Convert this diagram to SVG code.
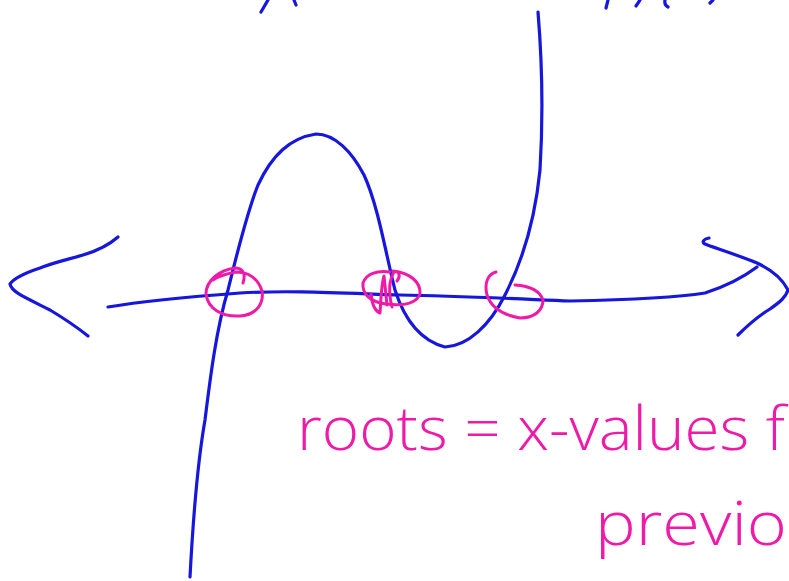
<svg xmlns="http://www.w3.org/2000/svg" width="789" height="581" viewBox="0 0 789 581">
<style>
.b{fill:none;stroke:#1616dc;stroke-width:3.2;stroke-linecap:round;stroke-linejoin:round}
.m{fill:none;stroke:#ee1aa8;stroke-width:3;stroke-linecap:round;stroke-linejoin:round}
.t{fill:#ee1aa8;font-family:"Open Sans","Liberation Sans","DejaVu Sans",sans-serif;font-weight:300;font-size:60px}
</style>
<rect width="789" height="581" fill="#ffffff"/>
<g id="top-fragments">
<path class="b" d="M261,12 L268,0"/>
<path class="b" d="M294,0 L296,5"/>
<path class="b" d="M606,8 L608,0"/>
<path class="b" d="M636,6 L640,0"/>
<path class="b" d="M665,0 Q664,5 668,7"/>
<path class="b" d="M710,3 L713,0"/>
</g>
<g id="axis">
<path class="b" d="M108,307 C150,300 200,296 240,293 C290,290 340,293 400,295 C460,296 520,299 570,301 C620,300 680,297 705,293 C730,285 745,276 757,267"/>
<path class="b" d="M118,237 C110,244 100,250 83,255 C70,259 55,262 40,268 C25,273 14,278 10,284 C12,292 22,296 50,310 C65,319 78,328 88,336"/>
<path class="b" d="M709,238 C704,239 701,242 705,244 C712,247 735,254 757,263 C770,269 782,278 788,290 C786,297 780,302 770,309 C755,318 745,328 738,335"/>
</g>
<g id="curve">
<path class="b" d="M190,577 C193,520 198,460 205,420 C210,380 216,330 228,290 C236,258 246,215 258,185 C272,155 290,138 316,134 C335,134 352,152 364,175 C378,205 386,255 395,290 C403,315 418,340 445,347 C468,346 490,325 505,295 C522,262 535,220 540,170 C543,120 542,60 538,12"/>
</g>
<g id="root-circles">
<path class="m" d="M243,283 C246,274 243,268 235,268 C220,270 206,280 206,294 C208,309 222,317 240,316 C257,315 264,303 262,291 C258,278 248,272 236,272 C225,274 217,277 213,280"/>
<path class="m" d="M393,271 C410,273 421,282 420,294 C416,304 402,306 386,304 C370,302 362,294 363,283 C366,274 377,270 390,272"/>
<path class="m" d="M371,294 C372,304 375,311 380,313 C381,300 381,286 384,276 L387,305 M392,307 C389,295 388,282 394,272 C399,270 401,276 397,281"/>
<path class="m" d="M496,272 C488,274 484,283 487,295 C491,307 503,315 520,318 C535,318 543,310 543,300 C540,291 530,286 515,285"/>
</g>
<g id="labels">
<text class="t" x="297" y="450" textLength="488" lengthAdjust="spacingAndGlyphs">roots = x-values f</text>
<text class="t" x="595" y="545" textLength="192" lengthAdjust="spacingAndGlyphs">previo</text>
</g>
</svg>
